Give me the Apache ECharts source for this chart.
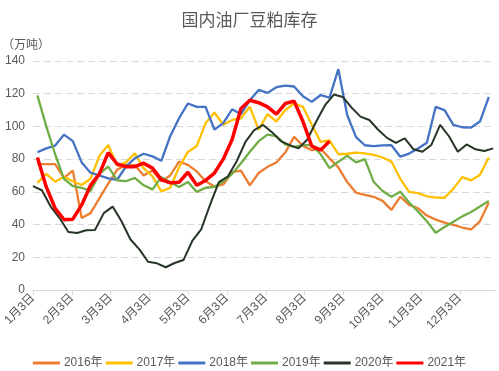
<!DOCTYPE html>
<html>
<head>
<meta charset="utf-8">
<script src="https://cdn.jsdelivr.net/npm/echarts@6/dist/echarts.min.js"></script>
<style>html,body{margin:0;padding:0;background:#fff}#c{width:499px;height:371px}</style>
</head>
<body>
<div id="c"></div>
<script>
const months = ['1月3日','2月3日','3月3日','4月3日','5月3日','6月3日','7月3日','8月3日','9月3日','10月3日','11月3日','12月3日'];
const years = ['2016年','2017年','2018年','2019年','2020年','2021年'];

const y2016 = [77,77,77,68.5,73,44,47,56,65,73.5,76.5,76.4,70,73,66.5,70,78.5,76.5,72.5,66.5,63.3,64.5,72,73,64,71.5,75.3,78,84,93.7,88,85.5,86.4,80.5,75,66,59.5,58.1,57,54.5,49,57,52,50,45.5,43,41.2,39.8,38.2,37,42,53.5];
const y2017 = [65.5,71,66.2,69.2,66.5,64.2,68,82,88.6,76,78,83.5,74.5,69.5,60.3,62.5,75,84.4,88,102,108.5,101,104,105,112,98,107.5,103,110,114,112,101,90.5,91.5,83,83.3,84,83.5,82.6,81,78.5,68,60,59.2,57.3,56.5,56.4,62,69,67,70.5,81];
const y2018 = [84.2,86.6,88.3,95,91,78,71.7,70,68.3,67.3,75.5,80.5,83.3,81.7,79,94,105,114,112,112,98,102,110.5,107.5,116,122.3,120.5,124,125,124.4,118.5,115,119.2,117.6,135,107,93.5,88.5,88,88.4,88.5,81.5,83.4,86.5,90,112,110,101,99.5,99.3,103,118];
const y2019 = [119,100,83,68,63.5,62.5,60.5,71,75.5,67,66.5,68.5,64,61.5,69,66,63,66,60,62.5,63,66.5,71,77.5,84.5,91,95,94,89,87.5,88.6,88.6,83,74.5,78.4,82,78,80,66,60.5,57,60,53.5,48,42,35,38.5,41.7,45,47.7,51,54.5];
const y2020 = [63.5,61,51,44,35.5,34.8,36.5,36.7,47,51,42,31,25,17.3,16.3,13.9,16.5,18.3,30,37,52,66,69.3,78.5,90.5,97.8,100.9,96.5,91,88.6,86.6,92,103,113,119.5,118,111.5,106,103.9,98,93,90,92.7,86,84.5,88.6,101,94,84.5,89,86,85,86.6];
const y2021 = [81,63,50,43,43.3,52,64,71,84,77,75.4,75.4,77.5,74.5,67.5,65.5,65.8,72,64,67,71.5,80,92,111,116,114.5,112,107.5,114,115.5,103,88,85.5,91];

const seriesValues = [y2016, y2017, y2018, y2019, y2020, y2021];
const firstWeek = [0.5, 0.5, 0.5, 0.5, 0, 0.5];
const colors = ['#ED7D31','#FFC000','#4472C4','#70AD47','#263526','#FF0000'];
const widths = [2.3, 2.3, 2.3, 2.3, 2, 3.5];
const WEEK = 0.2281; // one week in month units on the x axis

const FONT = '"Liberation Sans","Noto Sans CJK SC",sans-serif';
const TXT = '#595959';

const chart = echarts.init(document.getElementById('c'), null, {renderer: 'canvas'});
chart.setOption({
  animation: false,
  backgroundColor: '#fff',
  textStyle: {fontFamily: FONT},
  title: [
    {text: '国内油厂豆粕库存', left: 'center', top: 8,
     textStyle: {fontSize: 17, fontWeight: 'normal', color: TXT, fontFamily: FONT}},
    {text: '（万吨）', left: -3, top: 35,
     textStyle: {fontSize: 12, fontWeight: 'normal', color: TXT, fontFamily: FONT}}
  ],
  legend: {
    data: years, top: 352, left: 'center',
    icon: 'rect', itemWidth: 27, itemHeight: 3, itemGap: 3,
    textStyle: {fontSize: 12, color: TXT, fontFamily: FONT, padding: [0,0,0,-1]}
  },
  grid: {left: 33, right: 4, top: 61, bottom: 81, containLabel: false},
  xAxis: {
    type: 'value', min: 0, max: 11.907,
    splitLine: {show: false},
    axisLine: {show: true, lineStyle: {color: '#d9d9d9', width: 1}},
    axisTick: {show: true, length: 5, lineStyle: {color: '#d9d9d9'},
               customValues: months.map((m, i) => i)},
    axisLabel: {rotate: 45, fontSize: 12, color: TXT, margin: 6, fontFamily: FONT,
                customValues: months.map((m, i) => i),
                formatter: v => months[Math.round(v)] || ''}
  },
  yAxis: {
    type: 'value', min: 0, max: 140, interval: 20,
    axisLine: {show: false}, axisTick: {show: false},
    axisLabel: {fontSize: 12, color: TXT, margin: 8, fontFamily: FONT},
    splitLine: {show: true, lineStyle: {color: '#d9d9d9', type: [7, 4], width: 1}}
  },
  series: years.map((name, s) => ({
    name, type: 'line', showSymbol: false, symbol: 'none', smooth: false,
    z: 2 + s,
    lineStyle: {color: colors[s], width: widths[s]},
    itemStyle: {color: colors[s]},
    data: seriesValues[s].map((v, i) => [(firstWeek[s] + i) * WEEK, v])
  }))
});
</script>
</body>
</html>
